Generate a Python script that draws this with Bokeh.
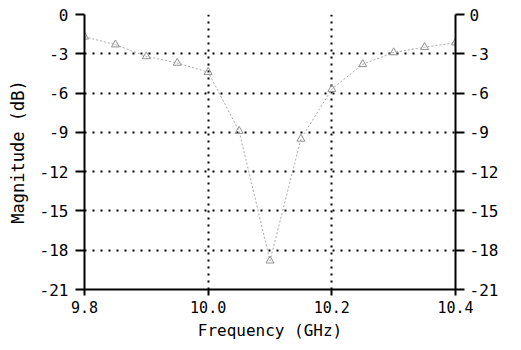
from bokeh.plotting import figure
from bokeh.models import LinearAxis, FixedTicker, Range1d
from bokeh.embed import file_html
from bokeh.resources import INLINE

freq_ghz = [9.80, 9.85, 9.90, 9.95, 10.00, 10.05, 10.10, 10.15, 10.20, 10.25, 10.30, 10.35, 10.40]
magnitude_db = [-1.7, -2.3, -3.2, -3.7, -4.4, -8.9, -18.8, -9.5, -5.7, -3.8, -2.9, -2.5, -2.15]

x_ticks = [9.8, 10.0, 10.2, 10.4]
x_tick_labels = ["9.8", "10.0", "10.2", "10.4"]
y_ticks = [0, -3, -6, -9, -12, -15, -18, -21]
y_tick_labels = ["0", "-3", "-6", "-9", "-12", "-15", "-18", "-21"]

FONT = "DejaVu Sans Mono"

p = figure(width=513, height=342, output_backend="svg", toolbar_location=None,
           x_range=Range1d(9.8, 10.4), y_range=Range1d(-21, 0),
           min_border_left=84, min_border_right=58, min_border_top=14, min_border_bottom=53)
p.outline_line_color = None
p.background_fill_color = "white"
p.border_fill_color = "white"

right = LinearAxis()
p.add_layout(right, "right")

for ax in p.yaxis:
    ax.ticker = FixedTicker(ticks=y_ticks)
    ax.major_label_overrides = {t: l for t, l in zip(y_ticks, y_tick_labels)}
    ax.minor_tick_line_color = None
    ax.major_tick_out = 9
    ax.major_tick_in = 0
    ax.axis_line_width = 2
    ax.major_tick_line_width = 2
    ax.axis_line_color = "black"
    ax.major_tick_line_color = "black"
    ax.major_label_text_font = FONT
    ax.major_label_text_font_size = "16px"
    ax.major_label_text_color = "black"
p.yaxis[0].major_label_standoff = 7
p.yaxis[1].major_label_standoff = 5

for ax in p.xaxis:
    ax.ticker = FixedTicker(ticks=x_ticks)
    ax.major_label_overrides = {t: l for t, l in zip(x_ticks, x_tick_labels)}
    ax.minor_tick_line_color = None
    ax.major_tick_out = 6
    ax.major_tick_in = 0
    ax.major_label_standoff = 5
    ax.axis_line_width = 2
    ax.major_tick_line_width = 2
    ax.axis_line_color = "black"
    ax.major_tick_line_color = "black"
    ax.major_label_text_font = FONT
    ax.major_label_text_font_size = "15px"
    ax.major_label_text_color = "black"

p.xaxis[0].axis_label = "Frequency (GHz)"
p.xaxis[0].axis_label_text_font = FONT
p.xaxis[0].axis_label_text_font_size = "16px"
p.xaxis[0].axis_label_text_font_style = "normal"
p.xaxis[0].axis_label_text_color = "black"
p.xaxis[0].axis_label_standoff = 5

p.yaxis[0].axis_label = "Magnitude (dB)"
p.yaxis[0].axis_label_text_font = FONT
p.yaxis[0].axis_label_text_font_size = "17px"
p.yaxis[0].axis_label_text_font_style = "normal"
p.yaxis[0].axis_label_text_color = "black"
p.yaxis[0].axis_label_standoff = 9

p.xgrid.ticker = FixedTicker(ticks=x_ticks)
p.ygrid.ticker = FixedTicker(ticks=y_ticks)
p.xgrid.grid_line_color = "black"
p.xgrid.grid_line_dash = "2 5"
p.xgrid.grid_line_width = 2
p.ygrid.grid_line_color = "black"
p.ygrid.grid_line_dash = "2 6"
p.ygrid.grid_line_width = 2

p.line(freq_ghz, magnitude_db, line_color="#a8a8a8", line_width=1, line_dash="2 2")
p.scatter(freq_ghz, magnitude_db, marker="triangle", size=8, fill_color=None,
          line_color="#909090", line_width=1)

open("out.html", "w").write(file_html(p, INLINE))
